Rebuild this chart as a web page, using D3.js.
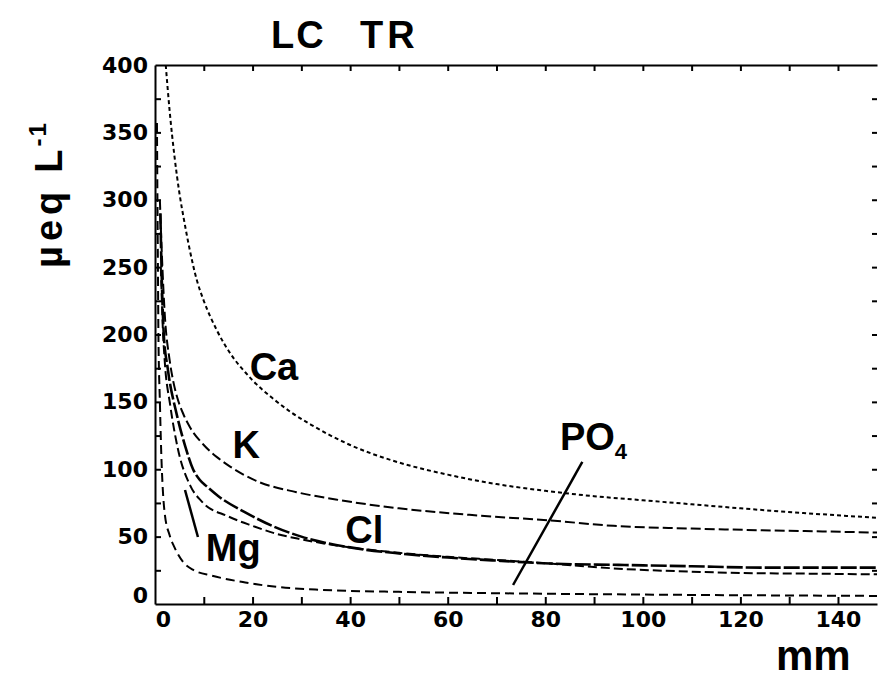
<!DOCTYPE html>
<html>
<head>
<meta charset="utf-8">
<script src="https://cdn.jsdelivr.net/npm/d3@7"></script>
<style>
  html, body { margin: 0; padding: 0; background: #fff; }
  svg { display: block; }
  text { fill: #000; }
</style>
</head>
<body>
<svg id="chart" width="878" height="680"></svg>
<script>
// ---- data (x: mm, y: µeq L-1) ----
const xTickValues = [0, 20, 40, 60, 80, 100, 120, 140];
const yTickValues = [0, 50, 100, 150, 200, 250, 300, 350, 400];

const caX = [2.2, 3, 4, 5, 6, 7, 8.6, 10, 12.7, 16, 18.5, 20, 24, 28, 32, 36, 40, 50, 60, 70, 80, 90, 100, 110, 120, 135, 148];
const caY = [400, 366, 332, 305, 284, 265, 240, 225, 203, 183, 172, 166, 153, 142, 133, 125, 118, 105, 96, 89, 84, 80, 77, 74, 71, 67, 64];

const kX = [1.0, 1.4, 2.0, 3.0, 3.7, 4.5, 5.8, 7.2, 10, 12.7, 15.4, 21, 29, 38, 50, 65, 81, 94, 110, 121, 135, 148];
const kY = [300, 260, 215, 181, 166, 154, 141, 131, 118, 109, 102, 91, 83, 77, 71, 66, 62, 58, 56, 55, 54, 53];

const clX = [1.1, 1.4, 1.8, 2.6, 4.5, 6.2, 7.8, 9.2, 10.7, 13, 18.5, 24, 30, 40, 50, 60, 71, 81, 95, 110, 125, 148];
const clY = [290, 240, 200, 175, 140, 117, 100, 92, 87, 80, 68, 58, 50, 42, 37.5, 34.5, 32, 30, 29, 28, 27, 27];

const mgX = [1.2, 1.6, 2.0, 3.1, 4.7, 7.2, 9.6, 15, 20, 25, 30, 38, 50, 60, 71, 81, 96, 110, 120, 135, 148];
const mgY = [250, 205, 180, 148, 115, 88, 76, 65, 58, 52, 48, 43, 38, 35, 32.5, 30, 26, 24, 23, 22.5, 22];

const po4X = [0.4, 0.5, 0.6, 0.7, 1.0, 1.3, 1.6, 2, 3, 4, 5.8, 8, 11.7, 14, 18.5, 23, 34, 50, 70, 100, 148];
const po4Y = [357, 300, 250, 200, 150, 110, 85, 67, 51, 42, 31, 25, 21, 19, 16, 13.5, 10.5, 9, 8, 7, 6];

const seriesNames = ["Ca", "K", "Cl", "Mg", "PO4"];

// ---- layout ----
const svg = d3.select("#chart");
const x = d3.scaleLinear().domain([0, 148]).range([155, 877]);
const y = d3.scaleLinear().domain([0, 400]).range([604, 65]);

const series = [
  { name: "Ca", xs: caX, ys: caY, dash: "4,3", w: 2 },
  { name: "K", xs: kX, ys: kY, dash: "10,4", w: 2 },
  { name: "Cl", xs: clX, ys: clY, dash: "16,3", w: 2.6 },
  { name: "Mg", xs: mgX, ys: mgY, dash: "9,4", w: 2 },
  { name: "PO4", xs: po4X, ys: po4Y, dash: "9,5", w: 2 }
];

svg.append("clipPath").attr("id", "plotclip")
  .append("rect").attr("x", x(0)).attr("y", y(400)).attr("width", x(148) - x(0)).attr("height", y(0) - y(400));

const line = d3.line().x(d => x(d[0])).y(d => y(d[1])).curve(d3.curveMonotoneX);

svg.append("g").attr("clip-path", "url(#plotclip)")
  .selectAll("path").data(series).join("path")
  .attr("d", s => line(s.xs.map((v, i) => [v, s.ys[i]])))
  .attr("fill", "none").attr("stroke", "#000")
  .attr("stroke-width", s => s.w)
  .attr("stroke-dasharray", s => s.dash);

// ---- axes ----
const tickFont = "bold 22px 'DejaVu Sans', sans-serif";

// bottom
const gx = svg.append("g").attr("transform", `translate(0,${y(0)})`)
  .call(d3.axisBottom(x).tickValues(xTickValues).tickSize(0).tickPadding(7).tickFormat(d3.format("d")));
gx.select(".domain").attr("stroke", "#000").attr("stroke-width", 2);
gx.selectAll("text").style("font", tickFont).attr("fill", "#000");
gx.selectAll(".tick").filter(d => d === 0).select("text").attr("dx", 8);
svg.append("g").attr("transform", `translate(0,${y(0)})`)
  .call(d3.axisTop(x).tickValues(d3.range(10, 148, 10)).tickSize(7).tickFormat(""))
  .call(g => g.select(".domain").remove())
  .selectAll("line").attr("stroke", "#000").attr("stroke-width", 2);

// top
svg.append("g").attr("transform", `translate(0,${y(400)})`)
  .call(d3.axisBottom(x).tickValues(d3.range(10, 148, 10)).tickSize(6).tickSizeOuter(0).tickFormat(""))
  .call(g => g.select(".domain").attr("stroke", "#000").attr("stroke-width", 2))
  .selectAll("line").attr("stroke", "#000").attr("stroke-width", 2);

// left
const gy = svg.append("g").attr("transform", `translate(${x(0)},0)`)
  .call(d3.axisLeft(y).tickValues(yTickValues).tickSize(0).tickPadding(7).tickFormat(d3.format("d")));
gy.select(".domain").attr("stroke", "#000").attr("stroke-width", 2);
gy.selectAll("text").style("font", tickFont).attr("fill", "#000");
gy.selectAll(".tick").filter(d => d === 0).select("text").attr("dy", "-0.05em");
svg.append("g").attr("transform", `translate(${x(0)},0)`)
  .call(d3.axisRight(y).tickValues(d3.range(25, 400, 25)).tickSize(6).tickFormat(""))
  .call(g => g.select(".domain").remove())
  .selectAll("line").attr("stroke", "#000").attr("stroke-width", 2);

// right (ticks only, inward)
svg.append("g").attr("transform", `translate(${x(148)},0)`)
  .call(d3.axisLeft(y).tickValues(d3.range(25, 400, 25)).tickSize(5).tickFormat(""))
  .call(g => g.select(".domain").remove())
  .selectAll("line").attr("stroke", "#000").attr("stroke-width", 2);

// ---- labels ----
const bigFont = "bold 38px 'Liberation Sans', Arial, sans-serif";
const lab = (txt, px, py) => svg.append("text").attr("x", x(px)).attr("y", y(py)).style("font", bigFont).text(txt);
lab("Ca", 19.4, 166);
lab("K", 15.9, 108);
lab("Cl", 39.0, 45);
lab("Mg", 10.4, 32);
const po4 = svg.append("text").attr("x", x(83.0)).attr("y", y(114)).style("font", bigFont);
po4.append("tspan").text("PO");
po4.append("tspan").attr("dy", 9).style("font-size", "22px").text("4");

// pointer lines
svg.append("line").attr("x1", x(6.15)).attr("y1", y(84.6)).attr("x2", x(8.8)).attr("y2", y(49.7))
  .attr("stroke", "#000").attr("stroke-width", 2.5);
svg.append("line").attr("x1", x(87.6)).attr("y1", y(105.4)).attr("x2", x(73.4)).attr("y2", y(14.1))
  .attr("stroke", "#000").attr("stroke-width", 2.5);

// title
const titleFont = "bold 38px 'Liberation Sans', Arial, sans-serif";
svg.append("text").attr("x", 271).attr("y", 48).style("font", titleFont).style("letter-spacing", "2px").text("LC");
svg.append("text").attr("x", 360).attr("y", 48).style("font", titleFont).style("letter-spacing", "4px").text("TR");

// y axis title
const yt = svg.append("text").attr("transform", "translate(62,268) rotate(-90)")
  .style("font", "bold 38px 'Liberation Sans', Arial, sans-serif");
yt.append("tspan").style("letter-spacing", "5px").text("µeq");
yt.append("tspan").attr("dx", 14).text("L");
yt.append("tspan").attr("dy", -16).attr("dx", 3).style("font-size", "24px").style("letter-spacing", "2px").text("-1");

// x axis title
svg.append("text").attr("x", 776).attr("y", 670).style("font", "bold 42px 'Liberation Sans', Arial, sans-serif").text("mm");
</script>
</body>
</html>
